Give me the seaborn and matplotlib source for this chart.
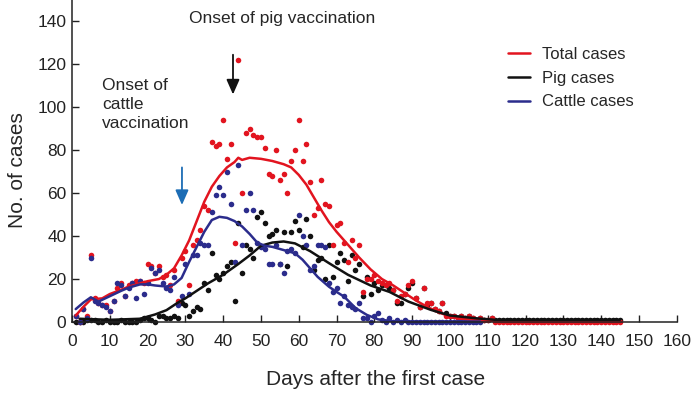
import numpy as np
import pandas as pd
import seaborn as sns
import matplotlib.pyplot as plt

# daily case counts (day 1 = first case)
days = list(range(1, 146))

total_cases = [
    3, 0, 6, 3, 31, 11, 9, 8, 8, 5, 10, 16, 18, 12, 17, 18, 19, 19, 18, 27,
    26, 23, 26, 21, 22, 17, 24, 10, 30, 33, 17, 36, 38, 43, 54, 52, 84, 82, 83, 94,
    76, 83, 37, 122, 60, 88, 90, 87, 86, 86, 81, 69, 68, 80, 66, 69, 60, 75, 80, 94,
    75, 83, 65, 50, 53, 66, 55, 54, 36, 45, 46, 37, 28, 38, 30, 36, 14, 20, 20, 22,
    19, 18, 17, 18, 15, 10, 12, 13, 17, 19, 11, 7, 16, 9, 9, 6, 5, 9, 3, 3,
    3, 2, 3, 2, 3, 2, 1, 2, 1, 1, 2, 0, 0, 0, 0, 0, 0, 0, 0, 0,
    0, 0, 0, 0, 0, 0, 0, 0, 0, 0, 0, 0, 0, 0, 0, 0, 0, 0, 0, 0,
    0, 0, 0, 0, 0,
]
pig_cases = [
    0, 0, 0, 1, 1, 1, 0, 0, 1, 0, 0, 0, 1, 0, 0, 0, 0, 1, 2, 2,
    1, 0, 3, 3, 2, 2, 3, 2, 9, 8, 3, 5, 7, 6, 18, 15, 32, 22, 20, 23,
    26, 28, 10, 46, 23, 36, 34, 30, 49, 51, 46, 40, 41, 43, 27, 42, 26, 42, 47, 43,
    35, 48, 40, 24, 29, 30, 20, 36, 21, 28, 32, 29, 19, 31, 24, 27, 12, 21, 13, 18,
    15, 17, 17, 16, 15, 9, 9, 13, 16, 18, 11, 7, 16, 8, 9, 6, 5, 9, 4, 3,
    3, 2, 3, 2, 3, 2, 1, 2, 1, 1, 2, 1, 1, 1, 1, 1, 1, 1, 1, 1,
    1, 1, 1, 1, 1, 1, 1, 1, 1, 1, 1, 1, 1, 1, 1, 1, 1, 1, 1, 1,
    1, 1, 1, 1, 1,
]
cattle_cases = [
    3, 0, 6, 2, 30, 10, 9, 8, 7, 5, 10, 18, 17, 12, 16, 18, 11, 19, 13, 18,
    25, 23, 24, 18, 16, 15, 21, 8, 12, 27, 13, 31, 31, 37, 36, 36, 51, 59, 63, 59,
    70, 55, 28, 73, 36, 52, 60, 52, 37, 35, 34, 27, 27, 36, 27, 23, 33, 34, 32, 50,
    40, 36, 24, 26, 36, 36, 35, 18, 14, 16, 9, 12, 8, 7, 6, 9, 2, 2, 0, 3,
    4, 1, 0, 2, 0, 1, 0, 1, 0, 0, 0, 0, 0, 0, 0, 0, 0, 0, 0, 0,
    0, 0, 0, 0, 0, 0, 0, 0,
]

# smoothed curves, read at sample days
total_fit_days = [1, 3, 5, 8, 10, 13, 15, 18, 20, 23, 25, 27, 29, 31, 33, 35, 37, 39, 41, 43,
                  44, 45, 47, 50, 53, 56, 58, 60, 62, 64, 66, 68, 70, 73, 76, 79, 82, 85, 88, 91,
                  94, 97, 100, 103, 106, 110, 145]
total_fit = [3, 7, 10.5, 11, 13, 15, 16.5, 18, 19, 20, 22, 25, 31, 38, 47, 56, 63, 68, 72, 74.5,
             76.5, 75.5, 76.5, 76, 75, 73.5, 72, 68.5, 64, 58, 52, 46.5, 42, 36, 30, 24.5, 20, 17, 13.5, 10,
             7, 4.5, 2.5, 1.5, 1, 0.5, 0.5]

pig_fit_days = [2, 10, 18, 20, 22, 25, 28, 30, 33, 36, 40, 44, 47, 50, 53, 56, 59, 63, 68, 73,
                79, 84, 89, 95, 100, 107, 112, 145]
pig_fit = [1.5, 1, 1.5, 2.5, 3.5, 5.5, 9, 11, 14.5, 18, 22, 27, 31, 35.5, 37, 37.5, 36.6, 33, 27.4, 22,
           17, 14, 9.5, 5.6, 3, 1.7, 1, 1]

cattle_fit_days = [1, 3, 5, 7, 10, 13, 15, 18, 20, 22, 25, 27, 29, 31, 33, 35, 37, 39, 41, 43,
                   45, 47, 49, 51, 53, 56, 59, 61, 63, 65, 68, 70, 72, 75, 78, 81, 85, 90, 100, 108]
cattle_fit = [6, 9, 11.5, 9.5, 12, 14.5, 16, 17.5, 17.5, 17, 16.5, 17.5, 20.5, 28, 35, 42, 47.5, 49, 48.5, 47,
              44.5, 41, 37, 35.5, 35, 33.5, 32, 29, 25, 21, 16.4, 14, 11.8, 6.5, 3.3, 1.2, 0.3, 0.2, 0.2, 0.2]

RED = "#e2141f"
BLACK = "#111111"
BLUE = "#2b2c8c"
ARROW_BLUE = "#1c6db5"

sns.set_theme(style="ticks")
plt.rcParams['font.family'] = ['Liberation Sans', 'DejaVu Sans']

fig, ax = plt.subplots(figsize=(6.92, 3.97), dpi=100)
fig.subplots_adjust(left=0.104, right=0.978, bottom=0.189, top=1.0)

# daily counts
sns.scatterplot(x=days, y=pig_cases, color=BLACK, s=16, linewidth=0, clip_on=False, ax=ax)
sns.scatterplot(x=days, y=total_cases, color=RED, s=16, linewidth=0, clip_on=False, ax=ax)
sns.scatterplot(x=days[:len(cattle_cases)], y=cattle_cases, color=BLUE, s=16, linewidth=0,
                clip_on=False, ax=ax)

# smoothed curves
sns.lineplot(x=total_fit_days, y=total_fit, color=RED, lw=1.8, label="Total cases", ax=ax)
sns.lineplot(x=pig_fit_days, y=pig_fit, color=BLACK, lw=1.8, label="Pig cases", ax=ax)
sns.lineplot(x=cattle_fit_days, y=cattle_fit, color=BLUE, lw=1.8, label="Cattle cases", ax=ax)

# vaccination markers
ax.annotate("", xy=(42.6, 106), xytext=(42.6, 124.5),
            arrowprops=dict(arrowstyle="-|>,head_length=0.5,head_width=0.22",
                            color=BLACK, lw=1.3, mutation_scale=18, shrinkA=0, shrinkB=0))
ax.annotate("", xy=(29.1, 54.5), xytext=(29.1, 72),
            arrowprops=dict(arrowstyle="-|>,head_length=0.5,head_width=0.22",
                            color=ARROW_BLUE, lw=1.3, mutation_scale=18, shrinkA=0, shrinkB=0))
ax.text(55.6, 141.4, "Onset of pig vaccination", ha="center", va="center", fontsize=12.5)
ax.text(7.9, 101.4, "Onset of\ncattle\nvaccination", ha="left", va="center",
        fontsize=12.5, linespacing=1.35)

ax.set_xlim(0, 160)
ax.set_ylim(0, 150)
ax.set_xticks(range(0, 161, 10))
ax.set_yticks(range(0, 141, 20))
ax.tick_params(direction="in", length=5, width=1, colors="#222222", labelsize=12.5)
ax.tick_params(axis="x", pad=9)
ax.tick_params(axis="y", pad=4)
for side in ["left", "bottom"]:
    ax.spines[side].set_linewidth(1.1)
    ax.spines[side].set_color("#222222")
sns.despine(ax=ax)

ax.set_xlabel("Days after the first case", fontsize=15)
ax.set_ylabel("No. of cases", fontsize=15)
ax.xaxis.set_label_coords(0.5025, -0.15)
ax.yaxis.set_label_coords(-0.075, 0.472)

ax.legend(loc="upper left", bbox_to_anchor=(0.7207, 0.854), frameon=False, fontsize=12,
          handlelength=1.35, handletextpad=0.7, labelspacing=0.52, borderpad=0, borderaxespad=0)

plt.savefig("out.png", dpi=100)
